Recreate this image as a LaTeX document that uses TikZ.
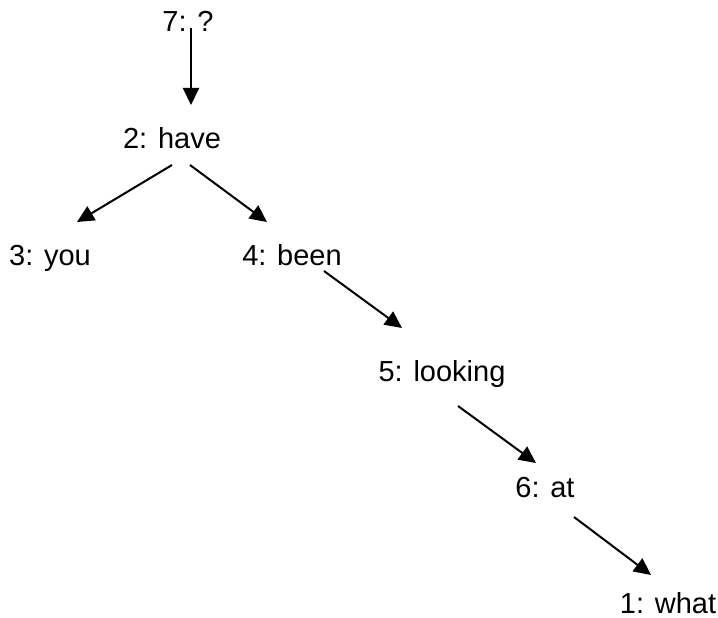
\documentclass[tikz,border=0pt]{standalone}
\usepackage{fontspec}
\setmainfont{Liberation Sans}
\usetikzlibrary{arrows.meta,calc}
\tikzset{
  word/.style={anchor=base, inner sep=0pt, font=\fontsize{29}{35}\selectfont},
  arr/.style={line width=2pt, -{Triangle[length=17pt,width=16pt]}}
}
\begin{document}
\begin{tikzpicture}[x=1pt,y=-1pt]
\useasboundingbox (0,0) rectangle (718,618);
\node[word] (n7) at (188,32) {7: ?};
\node[word] (n2) at (172,148) {2: have};
\node[word] (n3) at (50,265) {3: you};
\node[word] (n4) at (292,265) {4: been};
\node[word] (n5) at (442,381) {5: looking};
\node[word] (n6) at (545,497) {6: at};
\node[word] (n1) at (668,613) {1: what};
\draw[arr] ($(n7.base)+(3,-4)$) -- ($(n2.base)+(19,-43)$);
\draw[arr] ($(n2.base)+(0,17)$) -- ($(n3.base)+(27,-43)$);
\draw[arr] ($(n2.base)+(18,17)$) -- ($(n4.base)+(-25,-43)$);
\draw[arr] ($(n4.base)+(32,6)$) -- ($(n5.base)+(-40,-53)$);
\draw[arr] ($(n5.base)+(16,25)$) -- ($(n6.base)+(-9,-34)$);
\draw[arr] ($(n6.base)+(29,20)$) -- ($(n1.base)+(-17,-38)$);
\end{tikzpicture}
\end{document}
